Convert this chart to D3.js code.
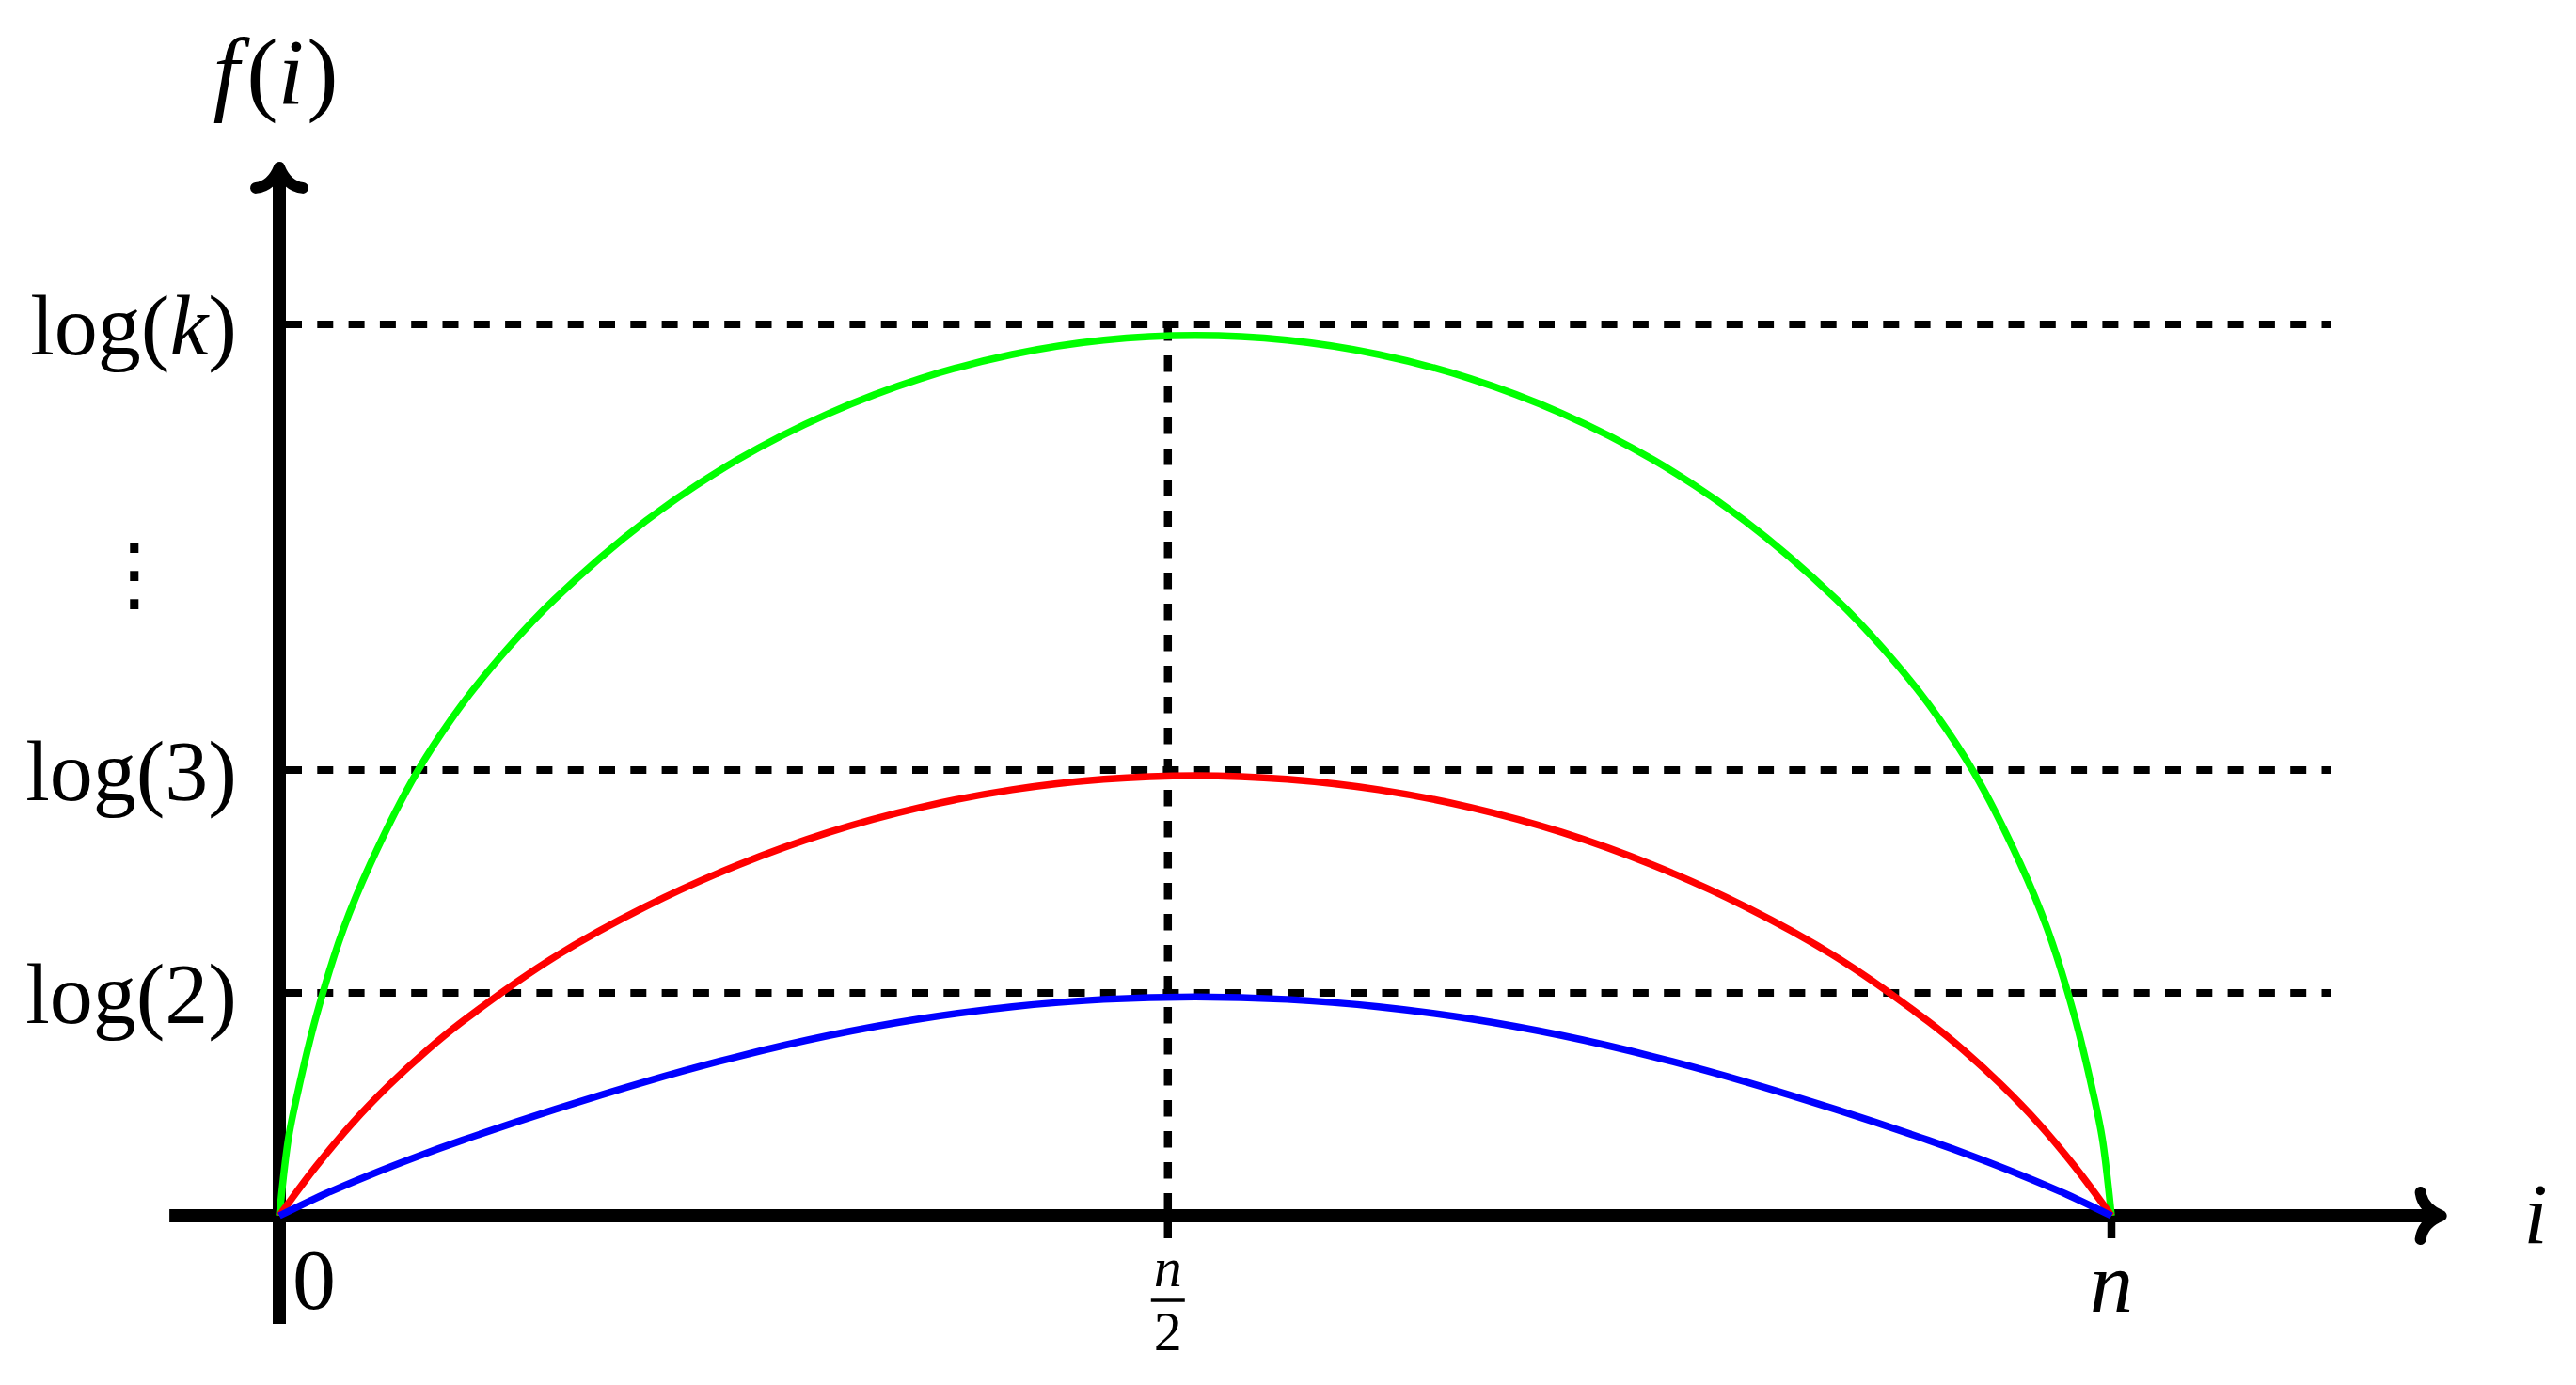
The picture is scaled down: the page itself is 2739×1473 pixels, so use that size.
<!DOCTYPE html>
<html>
<head>
<meta charset="utf-8">
<script src="https://cdn.jsdelivr.net/npm/d3@7/dist/d3.min.js"></script>
<style>
  body { margin: 0; background: #fff; }
  text { font-family: "Liberation Serif", serif; fill: #000; }
</style>
</head>
<body>
<svg id="chart"></svg>
<script>
// Declaring all constants

const svgWidth = 2739,
    svgHeight = 1473;

// levels on the f(i) axis (schematic units: log(2) = 1)
const levelValues = [1, 2, 4];
const levelLabels = ["log(2)", "log(3)", "log(k)"];
const dotsValue = 2.886;

// ticks on the i axis (fraction of n)
const xTickValues = [0, 0.485, 1];
const xTickLabels = ["0", "n/2", "n"];

// curves: i / n  and  f(i)
const greenI = [0, 0.005, 0.01, 0.02, 0.035, 0.05, 0.075, 0.1, 0.125, 0.15, 0.2, 0.25, 0.3, 0.35, 0.4, 0.45, 0.5,
                0.55, 0.6, 0.65, 0.7, 0.75, 0.8, 0.85, 0.875, 0.9, 0.925, 0.95, 0.965, 0.98, 0.99, 0.995, 1];
const greenF = [0, 0.348, 0.551, 0.891, 1.288, 1.585, 1.989, 2.298, 2.549, 2.765, 3.118, 3.392, 3.601, 3.757, 3.865, 3.929, 3.95,
                3.929, 3.865, 3.757, 3.601, 3.392, 3.118, 2.765, 2.549, 2.298, 1.989, 1.585, 1.288, 0.891, 0.551, 0.348, 0];

const redI = [0, 0.02, 0.04, 0.06, 0.08, 0.1, 0.15, 0.2, 0.25, 0.3, 0.35, 0.4, 0.45, 0.5,
              0.55, 0.6, 0.65, 0.7, 0.75, 0.8, 0.85, 0.9, 0.92, 0.94, 0.96, 0.98, 1];
const redF = [0, 0.221, 0.417, 0.587, 0.738, 0.872, 1.160, 1.388, 1.573, 1.721, 1.833, 1.912, 1.959, 1.975,
              1.959, 1.912, 1.833, 1.721, 1.573, 1.388, 1.160, 0.872, 0.738, 0.587, 0.417, 0.221, 0];

const blueI = [0, 0.025, 0.05, 0.075, 0.1, 0.15, 0.2, 0.25, 0.3, 0.35, 0.4, 0.45, 0.5,
               0.55, 0.6, 0.65, 0.7, 0.75, 0.8, 0.85, 0.9, 0.925, 0.95, 0.975, 1];
const blueF = [0, 0.098, 0.185, 0.265, 0.339, 0.476, 0.602, 0.714, 0.809, 0.884, 0.938, 0.971, 0.982,
               0.971, 0.938, 0.884, 0.809, 0.714, 0.602, 0.476, 0.339, 0.265, 0.185, 0.098, 0];

const series = [
    {name: "green", color: "#00ff00", i: greenI, f: greenF},
    {name: "red", color: "#ff0000", i: redI, f: redF},
    {name: "blue", color: "#0000ff", i: blueI, f: blueF}
];

// axis extents (data units)
const xAxisMin = -0.06, xAxisMax = 1.18, dashMax = 1.12;
const yAxisMin = -0.485, yAxisMax = 4.705;

const fontSize = 92;

// scales
var xScale = d3.scaleLinear().domain([0, 1]).range([297, 2245]);
var yScale = d3.scaleLinear().domain([0, 1]).range([1293, 1056]);

const chart = d3.select('#chart')
    .attr("width", svgWidth)
    .attr("height", svgHeight);

chart.append("rect")
    .attr("width", svgWidth)
    .attr("height", svgHeight)
    .attr("fill", "#fff");

// dashed guide lines
chart.append("g").selectAll("line")
    .data(levelValues)
    .enter()
    .append("line")
    .attr("x1", xScale(0) + 7)
    .attr("x2", xScale(dashMax))
    .attr("y1", d => yScale(d))
    .attr("y2", d => yScale(d))
    .attr("stroke", "#000")
    .attr("stroke-width", 8)
    .attr("stroke-dasharray", "17 16.3");

chart.append("line")
    .attr("x1", xScale(xTickValues[1]))
    .attr("x2", xScale(xTickValues[1]))
    .attr("y1", yScale(levelValues[2]))
    .attr("y2", yScale(0))
    .attr("stroke", "#000")
    .attr("stroke-width", 8.5)
    .attr("stroke-dasharray", "17.5 15.5");

// ticks under the i axis
chart.append("g").selectAll("line")
    .data(xTickValues.slice(1))
    .enter()
    .append("line")
    .attr("x1", d => xScale(d))
    .attr("x2", d => xScale(d))
    .attr("y1", yScale(0))
    .attr("y2", yScale(0) + 24)
    .attr("stroke", "#000")
    .attr("stroke-width", 8.5);

// axes
chart.append("line")
    .attr("x1", xScale(xAxisMin))
    .attr("x2", xScale(xAxisMax) - 7)
    .attr("y1", yScale(0))
    .attr("y2", yScale(0))
    .attr("stroke", "#000")
    .attr("stroke-width", 14);

chart.append("line")
    .attr("x1", xScale(0))
    .attr("x2", xScale(0))
    .attr("y1", yScale(yAxisMin))
    .attr("y2", yScale(yAxisMax) + 7)
    .attr("stroke", "#000")
    .attr("stroke-width", 14);

// latex-like arrow heads (pointing up in local coords)
const arrowHead = "M-25,22 Q-8,20 0,0 Q8,20 25,22";
function drawArrow(x, y, angle) {
    chart.append("path")
        .attr("d", arrowHead)
        .attr("transform", `translate(${x},${y}) rotate(${angle})`)
        .attr("fill", "none")
        .attr("stroke", "#000")
        .attr("stroke-width", 12)
        .attr("stroke-linecap", "round")
        .attr("stroke-linejoin", "round");
}
drawArrow(xScale(0), yScale(yAxisMax), 0);
drawArrow(xScale(xAxisMax), yScale(0), 90);

// curves
var valueline = d3.line()
    .x(d => xScale(d[0]))
    .y(d => yScale(d[1]))
    .curve(d3.curveCatmullRom.alpha(0.5));

chart.append("g").selectAll("path")
    .data(series)
    .enter()
    .append("path")
    .attr("d", d => valueline(d3.zip(d.i, d.f)))
    .attr("fill", "none")
    .attr("stroke", d => d.color)
    .attr("stroke-width", 7.5);

// level labels: log(...) with italic argument
var levelText = chart.append("g").selectAll("text")
    .data(levelValues)
    .enter()
    .append("text")
    .attr("x", 252)
    .attr("y", d => yScale(d) + 32)
    .attr("text-anchor", "end")
    .style("font-size", fontSize + "px");

levelText.each(function(d, i) {
    const m = levelLabels[i].match(/^(\w+)\((.*)\)$/);
    const t = d3.select(this);
    t.append("tspan").text(m[1] + "(");
    t.append("tspan").style("font-style", /[a-z]/.test(m[2]) ? "italic" : "normal").text(m[2]);
    t.append("tspan").text(")");
});

chart.append("text")
    .attr("x", 143)
    .attr("y", yScale(dotsValue))
    .attr("text-anchor", "middle")
    .attr("dominant-baseline", "central")
    .style("font-family", "DejaVu Sans")
    .style("font-size", "88px")
    .text("⋮");

// axis titles
var fTitle = chart.append("text")
    .attr("x", 293)
    .attr("y", 110)
    .attr("text-anchor", "middle")
    .style("font-size", "100px");
fTitle.append("tspan").style("font-style", "italic").text("f");
fTitle.append("tspan").attr("dx", 8).text("(");
fTitle.append("tspan").style("font-style", "italic").text("i");
fTitle.append("tspan").attr("dx", 3).text(")");

chart.append("text")
    .attr("x", 2696)
    .attr("y", 1322)
    .attr("text-anchor", "middle")
    .style("font-size", fontSize + "px")
    .style("font-style", "italic")
    .text("i");

// i axis tick labels
chart.append("text")
    .attr("x", xScale(xTickValues[0]) + 14)
    .attr("y", 1392)
    .style("font-size", fontSize + "px")
    .text(xTickLabels[0]);

// n/2 as a stacked fraction
const frac = xTickLabels[1].split("/");
chart.append("text")
    .attr("x", xScale(xTickValues[1]))
    .attr("y", 1368)
    .attr("text-anchor", "middle")
    .style("font-size", "60px")
    .style("font-style", "italic")
    .text(frac[0]);
chart.append("line")
    .attr("x1", xScale(xTickValues[1]) - 18)
    .attr("x2", xScale(xTickValues[1]) + 18)
    .attr("y1", 1383)
    .attr("y2", 1383)
    .attr("stroke", "#000")
    .attr("stroke-width", 3.5);
chart.append("text")
    .attr("x", xScale(xTickValues[1]))
    .attr("y", 1436)
    .attr("text-anchor", "middle")
    .style("font-size", "60px")
    .text(frac[1]);

chart.append("text")
    .attr("x", xScale(xTickValues[2]))
    .attr("y", 1395)
    .attr("text-anchor", "middle")
    .style("font-size", fontSize + "px")
    .style("font-style", "italic")
    .text(xTickLabels[2]);
</script>
</body>
</html>
